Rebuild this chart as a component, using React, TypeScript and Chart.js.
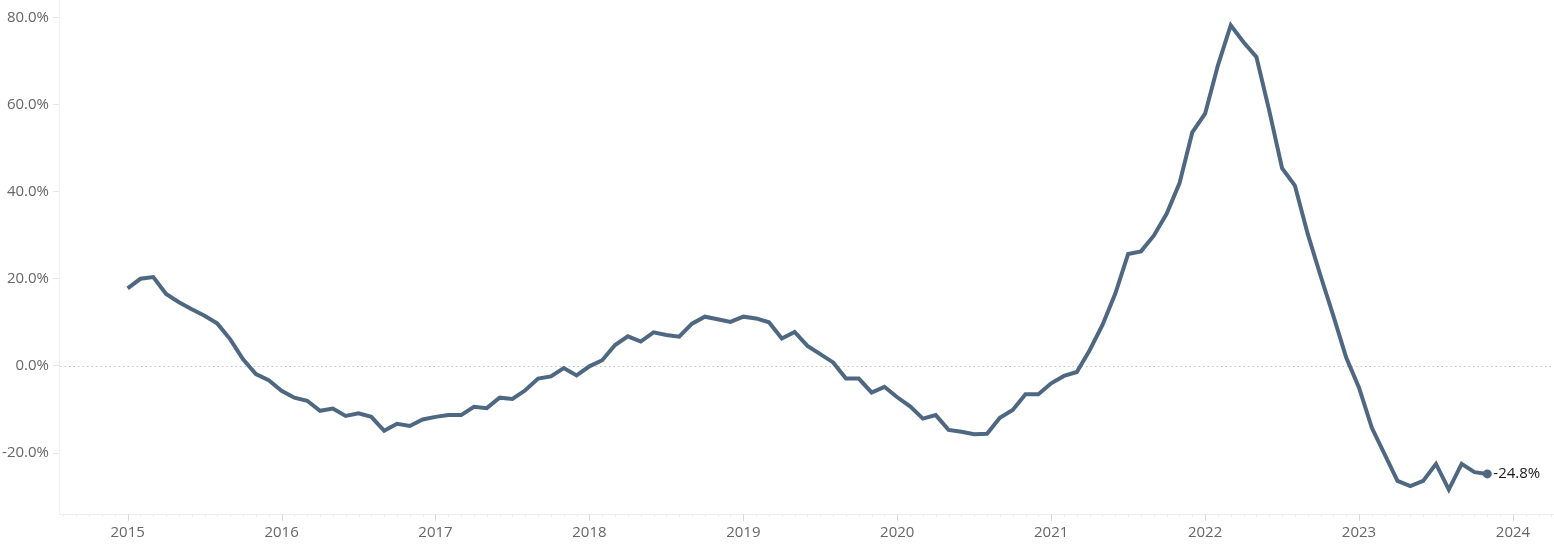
import React, { useEffect, useRef } from 'react';
import { Chart, registerables } from 'chart.js';

Chart.register(...registerables);

// ---- data (year-over-year %, monthly, Jan 2015 – Nov 2023) ----
const startYear = 2015;
const yearLabels = ['2015', '2016', '2017', '2018', '2019', '2020', '2021', '2022', '2023', '2024'];
const yTickValues = [-20, 0, 20, 40, 60, 80];

const v2015 = [17.8, 20.0, 20.4, 16.5, 14.6, 13.0, 11.5, 9.7, 6.1, 1.5, -1.9, -3.3];
const v2016 = [-5.7, -7.3, -8.0, -10.3, -9.8, -11.5, -10.9, -11.7, -14.9, -13.3, -13.8, -12.3];
const v2017 = [-11.7, -11.3, -11.3, -9.4, -9.7, -7.3, -7.6, -5.6, -2.9, -2.4, -0.5, -2.2];
const v2018 = [-0.1, 1.3, 4.8, 6.8, 5.6, 7.7, 7.1, 6.7, 9.7, 11.3, 10.7, 10.1];
const v2019 = [11.3, 10.9, 10.0, 6.3, 7.8, 4.6, 2.7, 0.8, -2.9, -2.9, -6.1, -4.8];
const v2020 = [-7.2, -9.3, -12.1, -11.3, -14.7, -15.1, -15.7, -15.6, -11.9, -10.1, -6.5, -6.5];
const v2021 = [-4.0, -2.3, -1.4, 3.6, 9.4, 16.6, 25.7, 26.3, 29.9, 34.9, 41.9, 53.6];
const v2022 = [57.9, 69.0, 78.2, 74.3, 70.9, 58.6, 45.4, 41.4, 30.3, 20.7, 11.5, 1.9];
const v2023 = [-5.0, -14.2, -20.3, -26.4, -27.6, -26.4, -22.5, -28.4, -22.5, -24.4, -24.8];

const LINE_COLOR = '#4f6882';
const AXIS_TEXT = '#666666';
const FONT = '"Open Sans", "Noto Sans", sans-serif';

const zeroPadding = (axis: any) => {
  axis.paddingTop = 0;
  axis.paddingBottom = 0;
  axis.paddingLeft = 0;
  axis.paddingRight = 0;
};

export default function App() {
  const canvasRef = useRef<HTMLCanvasElement | null>(null);

  useEffect(() => {
    const canvas = canvasRef.current;
    if (!canvas) return;

    const series = [v2015, v2016, v2017, v2018, v2019, v2020, v2021, v2022, v2023];
    const points = series.flatMap((arr, yi) => arr.map((v, m) => ({ x: yi * 12 + m, y: v })));
    const lastIndex = points.length - 1;

    const decor = {
      id: 'decor',
      beforeDatasetsDraw(chart: any) {
        const { ctx, chartArea, scales } = chart;
        const x = scales.x;
        const y = scales.y;
        ctx.save();
        // dotted zero line
        const y0 = Math.round(y.getPixelForValue(0)) + 0.5;
        ctx.strokeStyle = '#c4c4c4';
        ctx.lineWidth = 1;
        ctx.setLineDash([1.5, 3]);
        ctx.beginPath();
        ctx.moveTo(chartArea.left + 1, y0);
        ctx.lineTo(chartArea.right, y0);
        ctx.stroke();
        ctx.setLineDash([]);
        // monthly minor ticks + yearly major ticks
        for (let m = Math.ceil(x.min); m <= x.max; m++) {
          const px = Math.round(x.getPixelForValue(m)) + 0.5;
          const major = m % 12 === 0;
          ctx.strokeStyle = major ? '#dadada' : '#ececec';
          ctx.beginPath();
          ctx.moveTo(px, chartArea.bottom);
          ctx.lineTo(px, chartArea.bottom + (major ? 7 : 3));
          ctx.stroke();
        }
        ctx.restore();
      },
      afterDatasetsDraw(chart: any) {
        const { ctx } = chart;
        const meta = chart.getDatasetMeta(0);
        const pt = meta.data[meta.data.length - 1];
        const val = points[lastIndex].y;
        ctx.save();
        ctx.font = `15px ${FONT}`;
        ctx.fillStyle = '#1a1a1a';
        ctx.textAlign = 'left';
        ctx.textBaseline = 'middle';
        ctx.fillText(`${val.toFixed(1)}%`, pt.x + 6, pt.y);
        ctx.restore();
      },
    };

    const chart = new Chart(canvas, {
      type: 'line',
      data: {
        datasets: [
          {
            data: points,
            borderColor: LINE_COLOR,
            backgroundColor: LINE_COLOR,
            borderWidth: 4,
            borderJoinStyle: 'miter',
            tension: 0,
            pointRadius: (c: any) => (c.dataIndex === lastIndex ? 4.5 : 0),
            pointHoverRadius: 0,
            pointBorderWidth: 0,
            clip: false,
          } as any,
        ],
      },
      options: {
        responsive: false,
        animation: false,
        events: [],
        layout: { padding: 0, autoPadding: false },
        plugins: {
          legend: { display: false },
          tooltip: { enabled: false },
        },
        scales: {
          x: {
            type: 'linear',
            min: -5.35,
            max: 111.2,
            afterBuildTicks: (axis: any) => {
              axis.ticks = yearLabels.map((_, i) => ({ value: i * 12 }));
            },
            afterFit: (axis: any) => {
              axis.height = 36;
              zeroPadding(axis);
            },
            grid: {
              display: true,
              drawOnChartArea: false,
              drawTicks: true,
              tickLength: 7,
              tickColor: 'rgba(0,0,0,0)',
            },
            border: { display: true, color: '#ededed', width: 1 },
            ticks: {
              autoSkip: false,
              maxRotation: 0,
              padding: 3,
              color: AXIS_TEXT,
              font: { family: FONT, size: 15 },
              callback: (v: any) => String(startYear + Math.round(Number(v) / 12)),
            },
          },
          y: {
            type: 'linear',
            min: -34,
            max: 84,
            afterBuildTicks: (axis: any) => {
              axis.ticks = yTickValues.map((v) => ({ value: v }));
            },
            afterFit: (axis: any) => {
              axis.width = 59;
              zeroPadding(axis);
            },
            grid: {
              display: true,
              drawOnChartArea: false,
              drawTicks: true,
              tickLength: 6,
              tickColor: '#e6e6e6',
            },
            border: { display: true, color: '#efefef', width: 1 },
            ticks: {
              padding: 4,
              color: AXIS_TEXT,
              font: { family: FONT, size: 15 },
              callback: (v: any) => `${Number(v).toFixed(1)}%`,
            },
          },
        },
      },
      plugins: [decor],
    });

    return () => {
      chart.destroy();
    };
  }, []);

  return (
    <div style={{ position: 'absolute', left: 0, top: 0, width: 1554, height: 550, background: '#ffffff' }}>
      <canvas ref={canvasRef} width={1554} height={550} style={{ width: 1554, height: 550, display: 'block' }} />
    </div>
  );
}
